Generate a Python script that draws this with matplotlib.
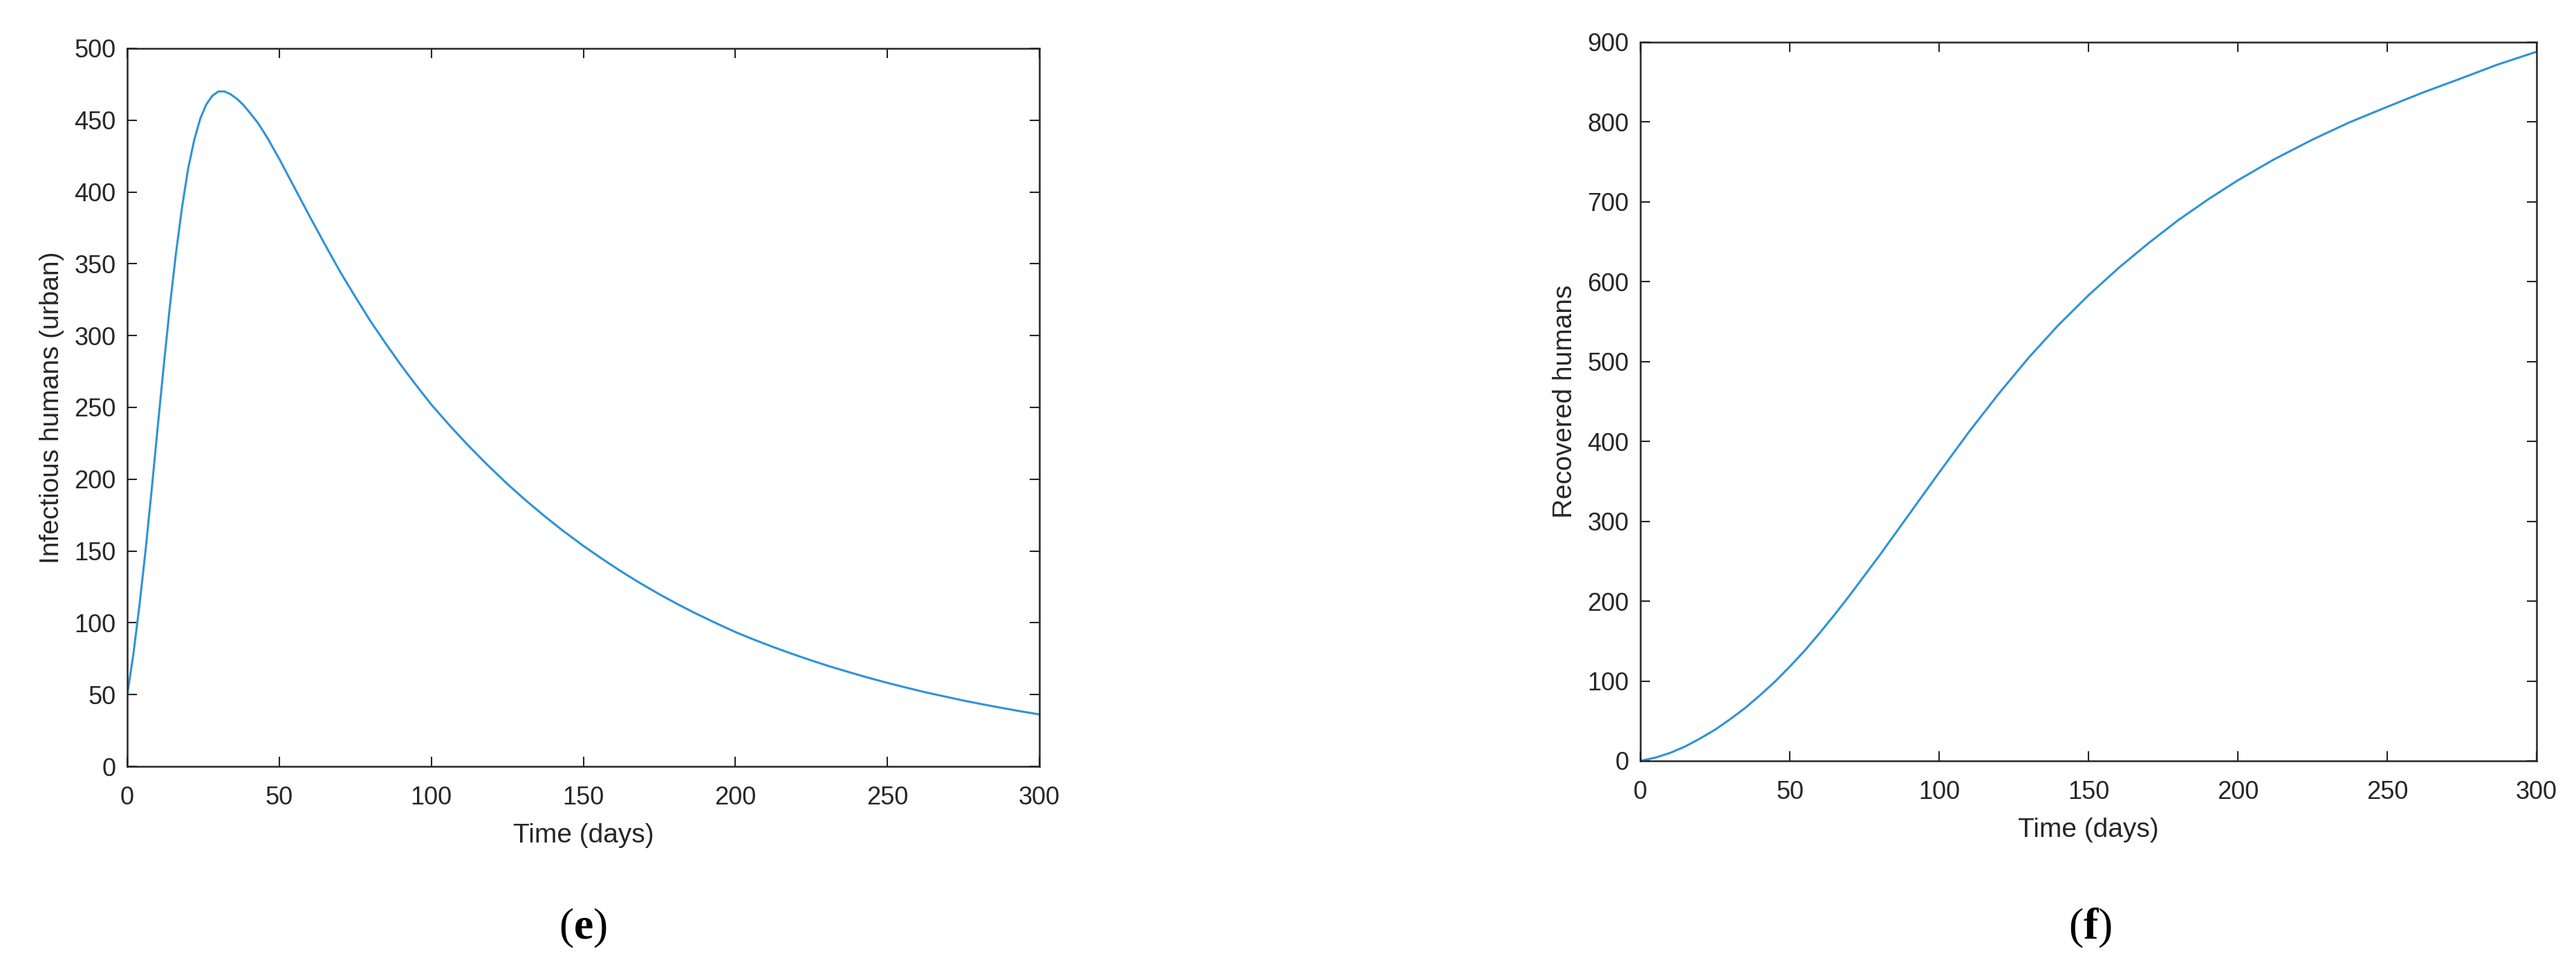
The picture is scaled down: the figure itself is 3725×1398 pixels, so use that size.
import numpy as np
import matplotlib
matplotlib.use("Agg")
import matplotlib.pyplot as plt

# panel (e): infectious humans (urban)
t_inf = [0, 2, 4, 6, 8, 10, 12, 14, 16, 18, 20, 22, 24, 26, 28, 30, 32, 34, 36, 38, 40,
         43, 46, 50, 55, 60, 65, 70, 75, 80, 85, 90, 95, 100, 106, 112, 118, 125, 131, 137,
         143, 150, 156, 162, 168, 175, 181, 187, 193, 200, 206, 212, 218, 225, 231, 237,
         243, 250, 256, 262, 268, 275, 281, 287, 293, 300]
infectious = [50, 78, 112, 150, 192, 236, 279, 320, 357, 389, 416, 436, 451, 461, 467, 470, 470, 468, 465, 461, 456,
              448, 438, 423, 403, 383, 363.5, 344.5, 327, 310, 294.5, 279.5, 265.5, 252, 237.5, 223.8, 210.9, 196.7, 185.4, 174.7,
              164.6, 153.6, 144.8, 136.4, 128.5, 119.9, 113.0, 106.5, 100.4, 93.6, 88.4, 83.5, 78.9, 73.8, 69.7, 65.9,
              62.2, 58.2, 55.0, 51.9, 49.1, 45.9, 43.4, 41.0, 38.7, 36.2]

# panel (f): recovered humans
t_rec = [0, 5, 10, 15, 20, 25, 30, 35, 40, 45, 50, 55, 60, 65, 70, 75, 80, 85, 90, 95, 100,
         110, 120, 130, 140, 150, 160, 170, 180, 190, 200, 212, 225, 237, 250, 262, 275, 287, 300]
recovered = [0, 4, 10, 18, 28, 39, 52, 66, 82, 99, 118, 138, 160, 183, 207, 232, 257, 283, 309, 335, 361,
             412, 460, 505, 546, 583, 617, 648, 677, 703, 727, 753, 778, 799, 819, 837, 855, 872, 888]

xticks = np.arange(0, 301, 50)
yticks_e = np.arange(0, 501, 50)
yticks_f = np.arange(0, 901, 100)

plt.rcParams['font.family'] = ['Liberation Sans', 'DejaVu Sans']
plt.rcParams['mathtext.fontset'] = 'custom'
plt.rcParams['mathtext.bf'] = 'Liberation Serif:bold'

dark = '#262626'
blue = '#2f93d8'

fig = plt.figure(figsize=(37.25, 13.98), dpi=100)
ax1 = fig.add_axes([0.0494, 0.2074, 0.3541, 0.7426])
ax2 = fig.add_axes([0.6368, 0.2132, 0.3479, 0.7432])

panels = [(ax1, t_inf, infectious, yticks_e, 'Infectious humans (urban)', 'e', 0.2264),
          (ax2, t_rec, recovered, yticks_f, 'Recovered humans', 'f', 0.8113)]

for ax, x, y, yt, ylab, tag, xtag in panels:
    ax.plot(x, y, color=blue, lw=2.2)
    ax.set_xlim(0, 300)
    ax.set_ylim(yt[0], yt[-1])
    ax.set_xticks(xticks)
    ax.set_yticks(yt)
    ax.tick_params(direction='in', top=True, right=True, length=10, width=1.5,
                   labelsize=26, colors=dark)
    ax.tick_params(axis='x', pad=20)
    ax.tick_params(axis='y', pad=12)
    for s in ax.spines.values():
        s.set_color(dark)
        s.set_linewidth(1.8)
    ax.set_xlabel('Time (days)', fontsize=28, color=dark, labelpad=14)
    ax.set_ylabel(ylab, fontsize=28, color=dark, labelpad=10)
    # panel tag under the axes
    fig.text(xtag, 0.04, r'($\mathbf{' + tag + '}$)', ha='center', va='center',
             fontsize=46, family='Liberation Serif', color='black')

fig.savefig('out.png', dpi=100)
